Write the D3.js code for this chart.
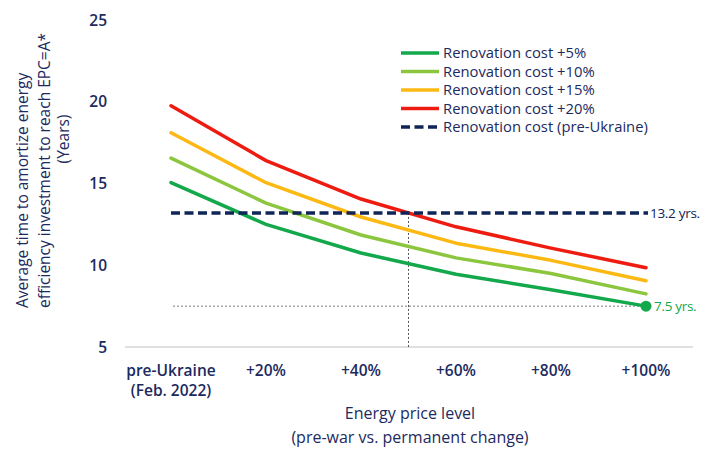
<!DOCTYPE html>
<html>
<head>
<meta charset="utf-8">
<script src="https://cdn.jsdelivr.net/npm/d3@7"></script>
<style>
  html, body { margin: 0; padding: 0; background: #fff; }
  svg { display: block; font-family: "Open Sans", sans-serif; }
</style>
</head>
<body>
<div id="chart"></div>
<script>
// categories (energy price level)
const categories = ["pre-Ukraine", "+20%", "+40%", "+60%", "+80%", "+100%"];
const categoryLines = [["pre-Ukraine", "(Feb. 2022)"], ["+20%"], ["+40%"], ["+60%"], ["+80%"], ["+100%"]];

// years to amortize, per renovation cost scenario
const cost5 = [15.05, 12.5, 10.75, 9.45, 8.5, 7.5];
const cost10 = [16.55, 13.8, 11.85, 10.45, 9.5, 8.25];
const cost15 = [18.1, 15.05, 12.95, 11.35, 10.3, 9.05];
const cost20 = [19.75, 16.4, 14.05, 12.35, 11.05, 9.85];
const preUkraineCost = 13.2;
const breakEvenPrice = 50; // +50% energy price
const yTicks = [5, 10, 15, 20, 25];

const seriesNames = ["Renovation cost +5%", "Renovation cost +10%", "Renovation cost +15%", "Renovation cost +20%"];
const seriesColors = ["#13a84b", "#8cc63f", "#fdb913", "#ee1c10"];
const navy = "#0f2457";
const textColor = "#1c2a5e";

const W = 701, H = 451;
const svg = d3.select("#chart").append("svg").attr("width", W).attr("height", H);

const x = d3.scalePoint().domain(categories).range([171, 646]);
const y = d3.scaleLinear().domain([5, 25]).range([347, 20]);
// energy price % -> x (for the +50% guide line)
const xPct = d3.scaleLinear().domain([0, 100]).range([x(categories[0]), x(categories[5])]);

// baseline
svg.append("line")
  .attr("x1", 125).attr("x2", 693)
  .attr("y1", y(5)).attr("y2", y(5))
  .attr("stroke", "#d6d6d6").attr("stroke-width", 1.5);

// y tick labels
svg.append("g").selectAll("text").data(yTicks).enter().append("text")
  .attr("x", 107).attr("y", d => y(d))
  .attr("dy", "0.36em")
  .attr("text-anchor", "end")
  .style("font-size", "15.5px").style("font-weight", 600)
  .style("fill", textColor)
  .text(d => d);

// x tick labels
const xl = svg.append("g").selectAll("text").data(categories).enter().append("text")
  .attr("x", d => x(d)).attr("y", 376)
  .attr("text-anchor", "middle")
  .style("font-size", "15.5px").style("font-weight", 600)
  .style("fill", textColor);
xl.selectAll("tspan").data((d, i) => categoryLines[i]).enter().append("tspan")
  .attr("x", function() { return this.parentNode.getAttribute("x"); })
  .attr("dy", (d, i) => i === 0 ? 0 : 20)
  .text(d => d);

// x axis title
svg.append("text")
  .attr("x", 410).attr("y", 419).attr("text-anchor", "middle")
  .style("font-size", "16px").style("fill", textColor)
  .text("Energy price level");
svg.append("text")
  .attr("x", 410).attr("y", 443).attr("text-anchor", "middle")
  .style("font-size", "16px").style("fill", textColor)
  .text("(pre-war vs. permanent change)");

// y axis title (rotated)
const yTitle = [
  { t: "Average time to amortize energy", bx: 28, y: 308, anchor: "start" },
  { t: "efficiency investment to reach EPC=A*", bx: 50, y: 308, anchor: "start" },
  { t: "(Years)", bx: 69, y: 139, anchor: "middle" }
];
svg.append("g").selectAll("text").data(yTitle).enter().append("text")
  .attr("transform", d => `translate(${d.bx},${d.y}) rotate(-90)`)
  .attr("text-anchor", d => d.anchor)
  .style("font-size", "15.5px").style("fill", textColor)
  .text(d => d.t);

// dotted guide lines
svg.append("line")
  .attr("x1", x(categories[0]) + 2).attr("x2", x(categories[5]))
  .attr("y1", y(cost5[5])).attr("y2", y(cost5[5]))
  .attr("stroke", "#7a7a7a").attr("stroke-width", 1).attr("stroke-dasharray", "2,2");
svg.append("line")
  .attr("x1", xPct(breakEvenPrice)).attr("x2", xPct(breakEvenPrice))
  .attr("y1", y(preUkraineCost)).attr("y2", y(5))
  .attr("stroke", "#555").attr("stroke-width", 1).attr("stroke-dasharray", "2,2");

// scenario lines
const line = d3.line()
  .x((d, i) => x(categories[i]))
  .y(d => y(d));

const allSeries = [cost5, cost10, cost15, cost20];
svg.append("g").selectAll("path").data(allSeries).enter().append("path")
  .attr("d", d => line(d))
  .attr("fill", "none")
  .attr("stroke", (d, i) => seriesColors[i])
  .attr("stroke-width", 3.5)
  .attr("stroke-linejoin", "round")
  .attr("stroke-linecap", "round");

// pre-Ukraine cost reference (dashed)
svg.append("line")
  .attr("x1", x(categories[0])).attr("x2", x(categories[5]) + 2)
  .attr("y1", y(preUkraineCost)).attr("y2", y(preUkraineCost))
  .attr("stroke", navy).attr("stroke-width", 3.5).attr("stroke-dasharray", "9,4.5");

svg.append("text")
  .attr("x", 650).attr("y", y(preUkraineCost)).attr("dy", "0.36em")
  .style("font-size", "13.5px").style("letter-spacing", "-0.3px").style("fill", navy)
  .text(preUkraineCost + " yrs.");

// end marker on +5% series
svg.append("circle")
  .attr("cx", x(categories[5])).attr("cy", y(cost5[5])).attr("r", 5.5)
  .attr("fill", seriesColors[0]);
svg.append("text")
  .attr("x", 654).attr("y", y(cost5[5])).attr("dy", "0.36em")
  .style("font-size", "13.5px").style("letter-spacing", "-0.3px").style("fill", seriesColors[0])
  .text(cost5[5] + " yrs.");

// legend
const legendItems = seriesNames.map((n, i) => ({ name: n, color: seriesColors[i], dash: null }))
  .concat([{ name: "Renovation cost (pre-Ukraine)", color: navy, dash: "9,4.5" }]);
const lg = svg.append("g").selectAll("g").data(legendItems).enter().append("g")
  .attr("transform", (d, i) => `translate(401,${53 + i * 18.5})`);
lg.append("line")
  .attr("x1", 0).attr("x2", 38)
  .attr("stroke", d => d.color).attr("stroke-width", 3.5)
  .attr("stroke-dasharray", d => d.dash);
lg.append("text")
  .attr("x", 42).attr("dy", "0.36em")
  .style("font-size", "14.8px").style("fill", textColor)
  .text(d => d.name);
</script>
</body>
</html>
